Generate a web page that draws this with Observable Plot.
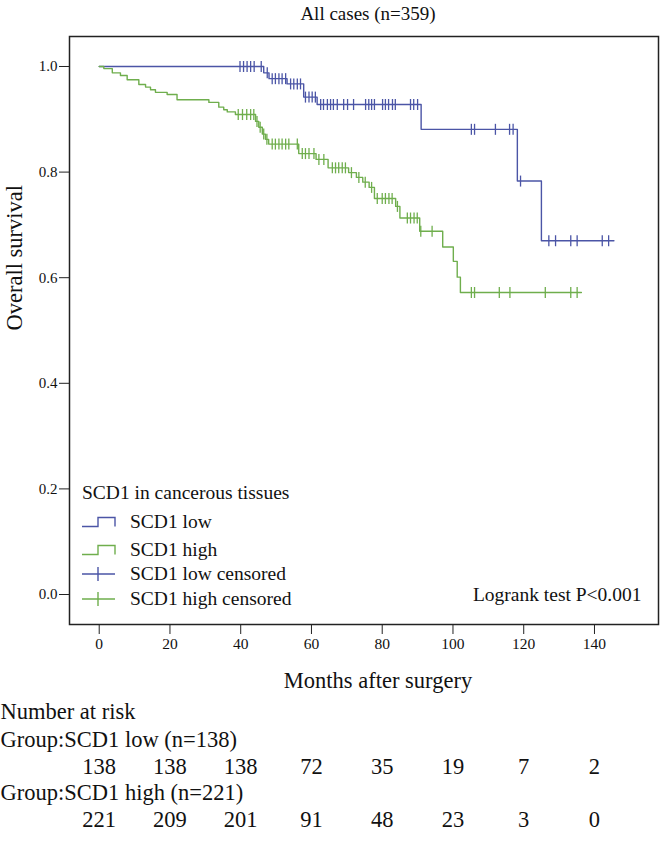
<!DOCTYPE html>
<html><head><meta charset="utf-8">
<script src="https://cdn.jsdelivr.net/npm/d3@7"></script>
<script src="https://cdn.jsdelivr.net/npm/@observablehq/plot@0.6"></script>
<style>
html,body{margin:0;padding:0;background:#fff;}
#wrap{position:relative;width:660px;height:847px;overflow:hidden;font-family:"Liberation Serif","Times New Roman",serif;color:#111;}
#wrap > svg{display:block}
.row{position:absolute;left:82px;height:24px;display:flex;align-items:center;font-size:19.5px;white-space:nowrap;line-height:1}
.row svg{width:34px;height:24px;margin-right:14px;flex:none}
</style></head>
<body><div id="wrap"></div>
<script>
// ---- data ----
const title = "All cases (n=359)";
const yLabel = "Overall survival";
const xLabel = "Months after surgery";
const pText = "Logrank test P<0.001";
const xTicks = [0, 20, 40, 60, 80, 100, 120, 140];
const yTicks = [0, 0.2, 0.4, 0.6, 0.8, 1.0];

// SCD1 low: event times (months) and survival after each drop
const lowTimes = [46.5, 48.0, 53.1, 57.8, 61.6, 91.0, 118.2, 125.0];
const lowSurv  = [0.988, 0.977, 0.967, 0.942, 0.928, 0.881, 0.783, 0.670];
const lowCensored = [39.8, 40.8, 41.8, 42.8, 43.8, 45.8, 47.5, 48.9, 49.8, 50.8, 51.7, 52.7,
  54.1, 55.0, 56.0, 56.9, 58.3, 59.3, 60.2, 61.1, 62.6, 63.4, 64.5, 65.4, 66.2, 67.3, 69.1,
  70.2, 71.9, 75.3, 76.2, 77.0, 77.8, 80.1, 80.9, 81.8, 82.9, 83.7, 88.0, 88.9, 90.0,
  105.2, 106.1, 112.0, 116.0, 117.0, 119.1, 127.1, 129.0, 133.3, 135.1, 142.2, 144.0];
const lowEnd = 145.5;

// SCD1 high
const highTimes = [1.3, 3.7, 6.0, 7.9, 11.2, 13.1, 14.5, 15.9, 19.2, 22.0, 31.0, 33.8, 35.2, 36.2, 38.5,
  44.2, 45.1, 46.1, 47.0, 47.9, 56.4, 61.3, 64.7, 70.5, 72.7, 74.5, 76.3, 77.8, 83.8, 85.0, 90.6,
  97.1, 100.1, 101.2, 102.1];
const highSurv = [0.996, 0.988, 0.983, 0.975, 0.966, 0.961, 0.956, 0.951, 0.947, 0.937, 0.932, 0.923, 0.918, 0.914, 0.909,
  0.896, 0.885, 0.872, 0.862, 0.853, 0.835, 0.824, 0.808, 0.799, 0.790, 0.781, 0.771, 0.750, 0.735, 0.713, 0.688,
  0.658, 0.631, 0.601, 0.572];
const highCensored = [39.3, 40.5, 41.7, 42.8, 43.7, 44.6, 45.5, 46.5, 47.4, 48.9, 49.8, 50.8, 51.7, 52.7, 53.6, 56.0,
  57.4, 58.3, 59.3, 60.7, 62.1, 63.5, 65.9, 66.8, 67.7, 68.7, 69.6, 71.3, 73.4, 75.2, 77.0,
  78.6, 80.0, 80.9, 81.9, 82.8, 84.3, 87.1, 88.0, 89.0, 89.9, 90.9, 94.1,
  105.2, 106.1, 113.1, 116.1, 126.1, 133.3, 135.1];
const highEnd = 136.3;

// Number at risk
const riskLabels = ["Number at risk", "Group:SCD1 low (n=138)", "Group:SCD1 high (n=221)"];
const riskTimes = [0, 20, 40, 60, 80, 100, 120, 140];
const riskLow  = [138, 138, 138, 72, 35, 19, 7, 2];
const riskHigh = [221, 209, 201, 91, 48, 23, 3, 0];

const legendTitle = "SCD1 in cancerous tissues";
const legendItems = ["SCD1 low", "SCD1 high", "SCD1 low censored", "SCD1 high censored"];

const BLUE = "#4b55a6";
const GREEN = "#6fae4d";
const FONT = "Liberation Serif";

// ---- helpers ----
function steps(times, surv, end) {
  const pts = [{t: 0, s: 1}];
  times.forEach((t, i) => pts.push({t, s: surv[i]}));
  pts.push({t: end, s: surv[surv.length - 1]});
  return pts;
}
function survAt(times, surv, t) {
  let s = 1;
  for (let i = 0; i < times.length; i++) if (times[i] <= t) s = surv[i];
  return s;
}
const vtick = {draw(ctx) { ctx.moveTo(0, -5.5); ctx.lineTo(0, 5.5); }};
const lowCens = lowCensored.map(t => ({t, s: survAt(lowTimes, lowSurv, t)}));
const highCens = highCensored.map(t => ({t, s: survAt(highTimes, highSurv, t)}));

const chart = Plot.plot({
  width: 660, height: 847,
  marginLeft: 69, marginRight: 2, marginTop: 36, marginBottom: 223,
  style: {fontFamily: FONT, background: "#fff", color: "#111", overflow: "visible"},
  x: {domain: [-8.4, 158.1]},
  y: {domain: [-0.0568, 1.0568]},
  marks: [
    Plot.axisX({ticks: xTicks, tickSize: 10, tickPadding: 3, label: null, fontSize: 15.5, tickFormat: d => String(d), stroke: "#222"}),
    Plot.axisY({ticks: yTicks, tickSize: 10, tickPadding: 2, label: null, fontSize: 15, tickFormat: d3.format(".1f"), stroke: "#222"}),
    Plot.line(steps(lowTimes, lowSurv, lowEnd), {x: "t", y: "s", curve: "step-after", stroke: BLUE, strokeWidth: 1.4}),
    Plot.line(steps(highTimes, highSurv, highEnd), {x: "t", y: "s", curve: "step-after", stroke: GREEN, strokeWidth: 1.4}),
    Plot.dot(lowCens, {x: "t", y: "s", symbol: vtick, stroke: BLUE, fill: "none", strokeWidth: 1.3}),
    Plot.dot(highCens, {x: "t", y: "s", symbol: vtick, stroke: GREEN, fill: "none", strokeWidth: 1.3}),
    Plot.frame({stroke: "#222", strokeWidth: 1.5}),
    Plot.text([title], {frameAnchor: "top", dy: -30, dx: 4, fontSize: 19, text: d => d}),
    Plot.text([yLabel], {frameAnchor: "left", dx: -55, rotate: -90, fontSize: 22.5, text: d => d}),
    Plot.text([xLabel], {frameAnchor: "bottom", dy: 63, dx: 14, fontSize: 22.5, text: d => d}),
    Plot.text([pText], {frameAnchor: "bottom-right", dx: -17, dy: -24, textAnchor: "end", fontSize: 19.5, text: d => d}),
    Plot.text([riskLabels[0]], {frameAnchor: "bottom-left", dx: -69, dy: 94, textAnchor: "start", fontSize: 22.5, text: d => d}),
    Plot.text([riskLabels[1]], {frameAnchor: "bottom-left", dx: -69, dy: 122, textAnchor: "start", fontSize: 22.5, text: d => d}),
    Plot.text([riskLabels[2]], {frameAnchor: "bottom-left", dx: -69, dy: 175, textAnchor: "start", fontSize: 22.5, text: d => d}),
    Plot.text(riskTimes, {x: d => d, text: (d, i) => String(riskLow[i]), frameAnchor: "bottom", dy: 149, fontSize: 22.5}),
    Plot.text(riskTimes, {x: d => d, text: (d, i) => String(riskHigh[i]), frameAnchor: "bottom", dy: 202, fontSize: 22.5})
  ]
});
const wrap = document.getElementById("wrap");
wrap.appendChild(chart);

// ---- legend (inside the plot area, bottom-left) ----
function row(centerY, html) {
  const d = document.createElement("div");
  d.className = "row";
  d.style.top = (centerY - 12) + "px";
  d.innerHTML = html;
  wrap.appendChild(d);
}
const stepIcon = c => `<svg viewBox="0 0 34 24"><path d="M0,16.5H16V7.5H33V16.5" fill="none" stroke="${c}" stroke-width="1.4"/></svg>`;
const censIcon = c => `<svg viewBox="0 0 34 24"><path d="M0,12H33M16,5V19" fill="none" stroke="${c}" stroke-width="1.4"/></svg>`;
row(493, `<span>${legendTitle}</span>`);
row(522, stepIcon(BLUE) + `<span>${legendItems[0]}</span>`);
row(550, stepIcon(GREEN) + `<span>${legendItems[1]}</span>`);
row(574, censIcon(BLUE) + `<span>${legendItems[2]}</span>`);
row(599, censIcon(GREEN) + `<span>${legendItems[3]}</span>`);
</script></body></html>
